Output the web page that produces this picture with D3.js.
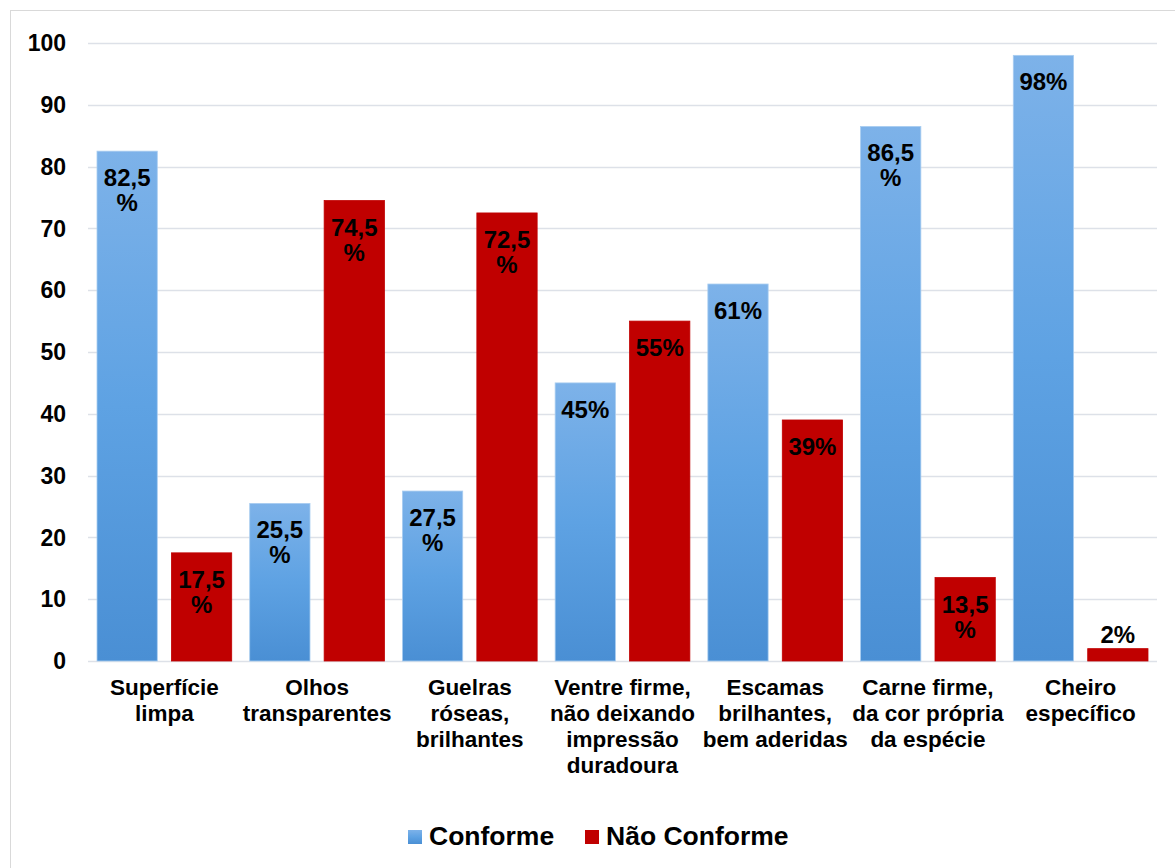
<!DOCTYPE html>
<html>
<head>
<meta charset="utf-8">
<script src="https://cdn.jsdelivr.net/npm/d3@7"></script>
<style>
  body { margin: 0; background: #fff; }
  svg { display: block; font-family: "Liberation Sans", Arial, sans-serif; font-weight: bold; }
  .tick-label { font-size: 23px; fill: #000; }
  .cat-label { font-size: 22.5px; fill: #000; }
  .data-label { font-size: 24px; fill: #000; }
  .legend text { font-size: 26.5px; fill: #000; }
</style>
</head>
<body>
<svg id="chart" width="1175" height="868"></svg>
<script>
const categories = [
  ["Superfície", "limpa"],
  ["Olhos", "transparentes"],
  ["Guelras", "róseas,", "brilhantes"],
  ["Ventre firme,", "não deixando", "impressão", "duradoura"],
  ["Escamas", "brilhantes,", "bem aderidas"],
  ["Carne firme,", "da cor própria", "da espécie"],
  ["Cheiro", "específico"]
];
const conforme    = [82.5, 25.5, 27.5, 45, 61, 86.5, 98];
const naoConforme = [17.5, 74.5, 72.5, 55, 39, 13.5, 2];
const seriesNames = ["Conforme", "Não Conforme"];
const yTicks = [0, 10, 20, 30, 40, 50, 60, 70, 80, 90, 100];

const svg = d3.select("#chart");
const m = { left: 88, right: 1157, top: 43, bottom: 661 };

// chart frame
svg.append("rect").attr("x", 10.5).attr("y", 10.5).attr("width", 1180).attr("height", 880)
  .attr("fill", "#fff").attr("stroke", "#d9d9d9").attr("stroke-width", 1);

const defs = svg.append("defs");
const grad = defs.append("linearGradient").attr("id", "blueGrad").attr("x1", 0).attr("y1", 0).attr("x2", 0).attr("y2", 1);
grad.append("stop").attr("offset", "0%").attr("stop-color", "#7db2e9");
grad.append("stop").attr("offset", "50%").attr("stop-color", "#5ea2e3");
grad.append("stop").attr("offset", "100%").attr("stop-color", "#4a8fd4");

const keys = categories.map((c, i) => i);
const x0 = d3.scaleBand().domain(keys).range([m.left, m.right]);
const x1 = d3.scaleBand().domain(seriesNames).range([9, x0.bandwidth() - 9]).paddingInner(0.19);
const y = d3.scaleLinear().domain([0, 100]).range([m.bottom, m.top]);

// grid
svg.append("g").selectAll("line").data(yTicks).join("line")
  .attr("x1", m.left).attr("x2", m.right)
  .attr("y1", (d) => Math.round(y(d)) + 0.5).attr("y2", (d) => Math.round(y(d)) + 0.5)
  .attr("stroke", "#dde1e8").attr("stroke-width", 1.3);

svg.append("g").selectAll("text").data(yTicks).join("text")
  .attr("class", "tick-label")
  .attr("x", 66).attr("y", (d) => y(d)).attr("dy", "0.36em")
  .attr("text-anchor", "end").text((d) => d);

const rows = keys.map((i) => [
  { s: "Conforme", v: conforme[i], i },
  { s: "Não Conforme", v: naoConforme[i], i }
]);
const fillOf = (s) => s === "Conforme" ? "url(#blueGrad)" : "#c00000";
const strokeOf = (s) => s === "Conforme" ? "#a9cdf0" : "#c00000";

const groups = svg.append("g").selectAll("g").data(rows).join("g")
  .attr("transform", (d, i) => `translate(${x0(i)},0)`);

groups.selectAll("rect").data((d) => d).join("rect")
  .attr("x", (d) => x1(d.s)).attr("width", x1.bandwidth())
  .attr("y", (d) => y(d.v)).attr("height", (d) => y(0) - y(d.v))
  .attr("fill", (d) => fillOf(d.s))
  .attr("stroke", (d) => strokeOf(d.s)).attr("stroke-width", 0.8);

// data labels
const fmt = (v) => String(v).replace(".", ",");
groups.selectAll("text").data((d) => d).join("text")
  .attr("class", "data-label")
  .attr("text-anchor", "middle")
  .each(function (d) {
    const t = d3.select(this);
    const cx = x1(d.s) + x1.bandwidth() / 2;
    const lines = Number.isInteger(d.v) ? [fmt(d.v) + "%"] : [fmt(d.v), "%"];
    const h = y(0) - y(d.v);
    const base = h > 30 ? y(d.v) + 35 : y(d.v) - 6;
    lines.forEach((l, k) => {
      t.append("tspan").attr("x", cx).attr("y", base + k * 25).text(l);
    });
  });

// category labels
svg.append("g").selectAll("text").data(categories).join("text")
  .attr("class", "cat-label").attr("text-anchor", "middle")
  .each(function (lines, i) {
    const t = d3.select(this);
    const cx = x0(i) + x0.bandwidth() / 2;
    lines.forEach((l, k) => t.append("tspan").attr("x", cx).attr("y", 695 + k * 26).text(l));
  });

// legend
const legend = svg.append("g").attr("class", "legend");
const legendItems = [
  { name: seriesNames[0], x: 408, fill: "url(#blueGrad)" },
  { name: seriesNames[1], x: 585, fill: "#c00000" }
];
legendItems.forEach((it) => {
  legend.append("rect").attr("x", it.x).attr("y", 830).attr("width", 14).attr("height", 14).attr("fill", it.fill);
  legend.append("text").attr("x", it.x + 21).attr("y", 845).text(it.name);
});
</script>
</body>
</html>
